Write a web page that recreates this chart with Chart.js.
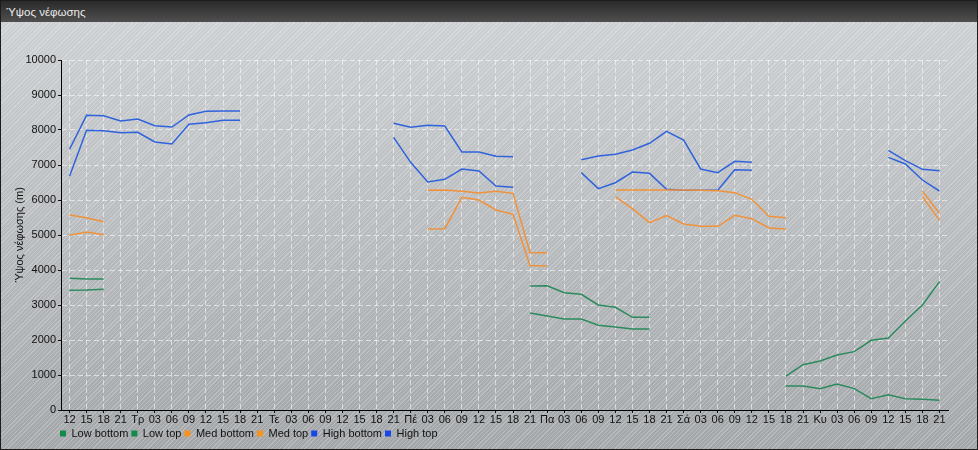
<!DOCTYPE html>
<html>
<head>
<meta charset="utf-8">
<script src="https://cdn.jsdelivr.net/npm/chart.js@4"></script>
<style>
  body { margin: 0; }
  #box {
    position: relative; width: 978px; height: 450px; box-sizing: border-box;
    border: 1px solid #1c1c1c;
    background:
      repeating-linear-gradient(135deg, rgba(255,255,255,0.22) 0 1px, rgba(255,255,255,0) 1px 3px),
      linear-gradient(#cfd2d5, #a3a6a9);
    font-family: Arial, "Liberation Sans", sans-serif;
  }
  #head {
    height: 21px; line-height: 22px; padding-left: 5px;
    background: linear-gradient(#2a2a2a, #4f4f4f);
    color: #ececec; font-size: 11.5px;
  }
  #wrap { position: absolute; left: 0; top: 21px; width: 976px; height: 427px; }
</style>
</head>
<body>
<div id="box">
  <div id="head">Ύψος νέφωσης</div>
  <div id="wrap"><canvas id="chart"></canvas></div>
</div>
<script>
const labels = ['12','15','18','21','Τρ','03','06','09','12','15','18','21',
  'Τε','03','06','09','12','15','18','21','Πέ','03','06','09','12','15','18','21',
  'Πα','03','06','09','12','15','18','21','Σά','03','06','09','12','15','18','21',
  'Κυ','03','06','09','12','15','18','21'];

const _ = null;
// 52 points, 3-hourly
const lowBottom = [3420,3429,3449,_,_,_,_,_,_,_,_,_,_,_,_,_,_,_,_,_,_,_,_,_,_,_,_,
  2771,2686,2600,2600,2420,2371,2314,2314,_,_,_,_,_,_,_,
  686,686,610,743,610,324,438,324,305,276];
const lowTop = [3763,3743,3743,_,_,_,_,_,_,_,_,_,_,_,_,_,_,_,_,_,_,_,_,_,_,_,_,
  3543,3551,3351,3305,3000,2934,2649,2649,_,_,_,_,_,_,_,
  971,1295,1400,1571,1667,1991,2057,2543,3000,3667];
const medBottom = [4991,5086,5009,_,_,_,_,_,_,_,_,_,_,_,_,_,_,_,_,_,_,
  5171,5180,6076,6000,5714,5591,4123,4123,_,_,_,
  6095,5752,5352,5552,5314,5248,5248,5562,5467,5200,5171,_,_,_,_,_,_,_,
  6095,5419];
const medTop = [5571,5494,5380,_,_,_,_,_,_,_,_,_,_,_,_,_,_,_,_,_,_,
  6276,6286,6248,6200,6248,6190,4494,4494,_,_,_,
  6286,6286,6286,6286,6286,6276,6267,6210,6019,5533,5494,_,_,_,_,_,_,_,
  6257,5619];
const highBottom = [6677,7991,7980,7923,7934,7657,7600,8163,8209,8277,8277,_,_,_,_,_,_,_,_,
  7790,7077,6514,6590,6886,6829,6400,6362,_,_,_,
  6781,6324,6494,6800,6762,6305,6276,6276,6276,6867,6848,_,_,_,_,_,_,_,
  7219,7029,6571,6257];
const highTop = [7449,8420,8409,8257,8314,8123,8086,8429,8534,8543,8543,_,_,_,_,_,_,_,_,
  8190,8076,8133,8114,7371,7371,7248,7237,_,_,_,
  7152,7260,7310,7429,7620,7963,7714,6886,6780,7106,7077,_,_,_,_,_,_,_,
  7419,7124,6876,6838];

const seriesNames = ['Low bottom','Low top','Med bottom','Med top','High bottom','High top'];
const seriesData = [lowBottom, lowTop, medBottom, medTop, highBottom, highTop];
const lineColors = ['#2b8a5e','#2b8a5e','#f0923a','#f0923a','#2f63dc','#2f63dc'];
const boxColors = ['#13894a','#13894a','#f7931e','#f7931e','#1747e6','#1747e6'];

const gridColor = 'rgba(255,255,255,0.55)';
const textColor = '#111';
Chart.defaults.font.family = 'Arial, "Liberation Sans", sans-serif';

// nudge the legend so the first box sits under the y axis
const shiftLegend = {
  id: 'shiftLegend',
  afterLayout(chart) {
    chart.legend.left = 56;
    chart.legend.right = 976;
  }
};

new Chart(document.getElementById('chart'), {
  type: 'line',
  data: {
    labels: labels,
    datasets: seriesData.map((d, i) => ({
      label: seriesNames[i],
      data: d,
      borderColor: lineColors[i],
      backgroundColor: boxColors[i],
      borderWidth: 1.5,
      pointRadius: 0,
      tension: 0,
      spanGaps: false
    }))
  },
  options: {
    responsive: true, maintainAspectRatio: false, animation: false,
    layout: { padding: { top: 38, right: 29, left: 0, bottom: 0 } },
    scales: {
      x: {
        offset: true,
        grid: { color: gridColor, offset: false, tickColor: '#111', tickLength: 3, tickBorderDash: [] },
        border: { color: '#000', dash: [5, 3] },
        ticks: { color: textColor, font: { size: 11 }, autoSkip: false, maxRotation: 0, padding: 0 },
        afterFit: s => { s.height = 15; }
      },
      y: {
        min: 0, max: 10000,
        grid: { color: gridColor, tickColor: '#111', tickLength: 3, tickBorderDash: [] },
        border: { color: '#000', dash: [5, 3] },
        ticks: { stepSize: 1000, color: textColor, font: { size: 11 }, padding: 2, callback: v => String(v) },
        title: { display: true, text: 'Ύψος νέφωσης (m)', color: textColor, font: { size: 11 }, padding: { top: 12, bottom: 0 } },
        afterFit: s => { s.width = 60; }
      }
    },
    plugins: {
      legend: {
        position: 'bottom', align: 'start',
        labels: {
          boxWidth: 6, boxHeight: 6, padding: 3, color: textColor, font: { size: 11 },
          generateLabels: chart => Chart.defaults.plugins.legend.labels.generateLabels(chart)
            .map(l => ({ ...l, fillStyle: boxColors[l.datasetIndex], strokeStyle: boxColors[l.datasetIndex], lineWidth: 0 }))
        }
      },
      tooltip: { enabled: false }
    }
  },
  plugins: [shiftLegend]
});
</script>
</body>
</html>
